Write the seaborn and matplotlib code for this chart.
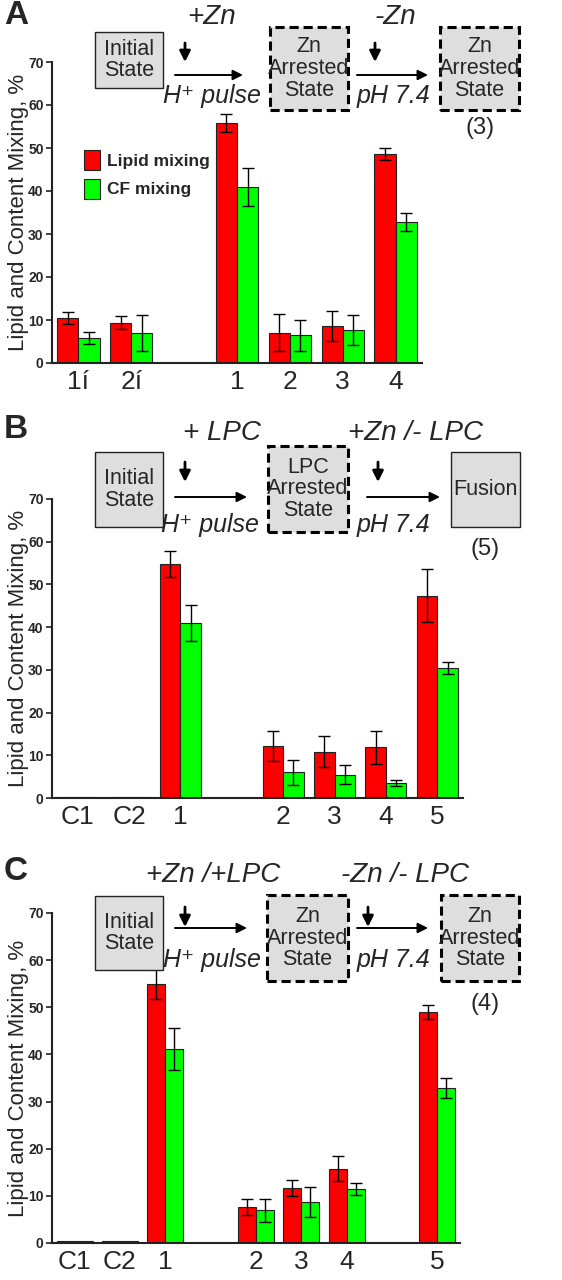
import matplotlib
matplotlib.use("Agg")
import matplotlib.pyplot as plt
import seaborn as sns
import pandas as pd
from matplotlib.patches import Rectangle, FancyArrowPatch

# series and colours
series = ["Lipid mixing", "CF mixing"]
bar_colors = ["#ff0000", "#00ff00"]

# panel A values
a_labels = ["1í", "2í", "1", "2", "3", "4"]
a_slots = [0, 1, 3, 4, 5, 6]
a_lipid = [10.5, 9.4, 55.8, 7.0, 8.6, 48.5]
a_lipid_err = [1.4, 1.5, 2.0, 4.3, 3.5, 1.4]
a_cf = [5.9, 7.0, 40.9, 6.4, 7.7, 32.8]
a_cf_err = [1.4, 4.2, 4.4, 3.5, 3.5, 2.2]

# panel B values
b_labels = ["C1", "C2", "1", "2", "3", "4", "5"]
b_slots = [0, 1, 2, 4, 5, 6, 7]
b_lipid = [0.3, 0.3, 54.8, 12.2, 10.8, 11.9, 47.4]
b_lipid_err = [0, 0, 3.0, 3.6, 3.6, 3.9, 6.2]
b_cf = [0.3, 0.3, 41.0, 6.0, 5.5, 3.4, 30.5]
b_cf_err = [0, 0, 4.3, 2.9, 2.2, 0.7, 1.4]

# panel C values
c_labels = ["C1", "C2", "1", "2", "3", "4", "5"]
c_slots = [0, 1, 2, 4, 5, 6, 8]
c_lipid = [0.5, 0.5, 55.0, 7.7, 11.7, 15.8, 49.0]
c_lipid_err = [0, 0, 3.2, 1.7, 1.7, 2.6, 1.4]
c_cf = [0.5, 0.5, 41.2, 6.9, 8.7, 11.5, 32.8]
c_cf_err = [0, 0, 4.4, 2.4, 3.1, 1.3, 2.1]

# scheme texts
a_steps = ["+Zn", "-Zn"]
a_states = ["Initial\nState", "Zn\nArrested\nState", "Zn\nArrested\nState"]
a_note = "(3)"
b_steps = ["+ LPC", "+Zn /- LPC"]
b_states = ["Initial\nState", "LPC\nArrested\nState", "Fusion"]
b_note = "(5)"
c_steps = ["+Zn /+LPC", "-Zn /- LPC"]
c_states = ["Initial\nState", "Zn\nArrested\nState", "Zn\nArrested\nState"]
c_note = "(4)"
conditions = ["H\u207a pulse", "pH 7.4"]

W, H = 562, 1280
GRAY = "#dedede"
DARK = "#222222"

sns.set_style("ticks")
plt.rcParams['font.family'] = ['Liberation Sans', 'DejaVu Sans']

fig = plt.figure(figsize=(W / 100, H / 100), dpi=100)


def px_axes(left, top, right, bottom):
    return fig.add_axes([left / W, 1 - bottom / H, (right - left) / W, (bottom - top) / H])


def bar_panel(ax, slots, labels, lipid, lipid_err, cf, cf_err, xmax, legend):
    df = pd.DataFrame({
        "slot": slots * 2,
        "value": lipid + cf,
        "series": [series[0]] * len(slots) + [series[1]] * len(slots),
    })
    sns.barplot(data=df, x="slot", y="value", hue="series", hue_order=series,
                palette=bar_colors, native_scale=True, width=0.8, errorbar=None,
                edgecolor=DARK, linewidth=0.8, saturation=1, legend=legend, ax=ax)
    # error bars centred on the bars seaborn drew
    for cont, vals, errs in zip(ax.containers, [lipid, cf], [lipid_err, cf_err]):
        for patch, v, e in zip(cont, vals, errs):
            if e > 0:
                ax.errorbar(patch.get_x() + patch.get_width() / 2, v, yerr=e,
                            color="black", lw=1, capsize=4, capthick=1)
    ax.set_xlim(-0.5, xmax)
    ax.set_ylim(0, 70)
    ax.set_yticks(range(0, 71, 10))
    ax.set_xticks(slots)
    ax.set_xticklabels(labels, fontsize=19)
    ax.tick_params(axis="x", length=0, pad=5)
    ax.tick_params(axis="y", length=4, width=1.2, color=DARK, pad=2)
    for t in ax.get_yticklabels():
        t.set_fontweight("bold")
        t.set_fontsize(10)
    sns.despine(ax=ax)
    for s in ["left", "bottom"]:
        ax.spines[s].set_color(DARK)
        ax.spines[s].set_linewidth(1.5)
    ax.set_xlabel("")
    ax.set_ylabel("Lipid and Content Mixing, %", fontsize=16)
    bb = ax.get_position()
    ax.yaxis.set_label_coords(-(bb.x0 * W - 29) / (bb.width * W), 0.5)
    if legend:
        ax.legend(loc="upper left", bbox_to_anchor=(0.045, 0.76), frameon=False,
                  prop=dict(weight="bold", size=12.5), handlelength=0.9,
                  handleheight=1.4, labelspacing=0.5, handletextpad=0.4)


def fx(x):
    return x / W


def fy(y):
    return 1 - y / H


def box(x0, y0, x1, y1, text, dashed):
    if dashed:
        r = Rectangle((fx(x0), fy(y1)), fx(x1 - x0), (y1 - y0) / H, transform=fig.transFigure,
                      facecolor=GRAY, edgecolor="black", lw=2.2, linestyle=(0, (3, 1.6)))
    else:
        r = Rectangle((fx(x0), fy(y1)), fx(x1 - x0), (y1 - y0) / H, transform=fig.transFigure,
                      facecolor=GRAY, edgecolor=DARK, lw=1)
    fig.add_artist(r)
    fig.text(fx((x0 + x1) / 2), fy((y0 + y1) / 2), text, ha="center", va="center",
             fontsize=15.5, linespacing=1.05)


def arrow(x0, y0, x1, y1, scale, lw):
    fig.add_artist(FancyArrowPatch(
        (fx(x0), fy(y0)), (fx(x1), fy(y1)), transform=fig.transFigure,
        arrowstyle="-|>", mutation_scale=scale, color="black", lw=lw,
        shrinkA=0, shrinkB=0))


def scheme(letter, ly, steps, states, note, lay):
    fig.text(fx(4), fy(ly), letter, fontsize=24, fontweight="bold", ha="left", va="center")
    for (x, y), s in zip(lay["steps"], steps):
        fig.text(fx(x), fy(y), s, fontsize=20, style="italic", ha="center", va="center")
    for (x0, y0, x1, y1, d), s in zip(lay["boxes"], states):
        box(x0, y0, x1, y1, s, d)
    for x, y0, y1 in lay["down"]:
        arrow(x, y0, x, y1, 16, 2)
    for x0, x1, y in lay["long"]:
        arrow(x0, y, x1, y, 15, 1.4)
    for (x, y), s in zip(lay["cond"], conditions):
        fig.text(fx(x), fy(y), s, fontsize=18, style="italic", ha="center", va="center")
    fig.text(fx(lay["note"][0]), fy(lay["note"][1]), note, fontsize=17, ha="center", va="center")


ax_a = px_axes(52, 62, 422, 363)
bar_panel(ax_a, a_slots, a_labels, a_lipid, a_lipid_err, a_cf, a_cf_err, 6.5, True)
ax_b = px_axes(52, 499, 463, 798)
bar_panel(ax_b, b_slots, b_labels, b_lipid, b_lipid_err, b_cf, b_cf_err, 7.5, False)
ax_c = px_axes(52, 913, 460, 1243)
bar_panel(ax_c, c_slots, c_labels, c_lipid, c_lipid_err, c_cf, c_cf_err, 8.5, False)

scheme("A", 16, a_steps, a_states, a_note, {
    "steps": [(212, 17), (395, 17)],
    "boxes": [(95, 32, 163, 88, False), (270, 27, 348, 110, True), (440, 27, 519, 110, True)],
    "down": [(185, 43, 62), (375, 43, 62)],
    "long": [(175, 243, 75), (357, 428, 75)],
    "cond": [(212, 96), (393, 96)],
    "note": (480, 128),
})
scheme("B", 430, b_steps, b_states, b_note, {
    "steps": [(222, 433), (415, 433)],
    "boxes": [(95, 452, 163, 527, False), (268, 446, 348, 532, True), (451, 452, 520, 527, False)],
    "down": [(185, 462, 482), (378, 462, 482)],
    "long": [(175, 247, 497), (367, 440, 497)],
    "cond": [(210, 525), (393, 525)],
    "note": (485, 549),
})
scheme("C", 872, c_steps, c_states, c_note, {
    "steps": [(213, 875), (405, 875)],
    "boxes": [(95, 896, 163, 970, False), (267, 895, 348, 981, True), (441, 895, 519, 981, True)],
    "down": [(185, 907, 927), (368, 907, 927)],
    "long": [(175, 247, 928), (357, 428, 928)],
    "cond": [(212, 960), (393, 960)],
    "note": (485, 1004),
})

fig.savefig("out.png", dpi=100)
